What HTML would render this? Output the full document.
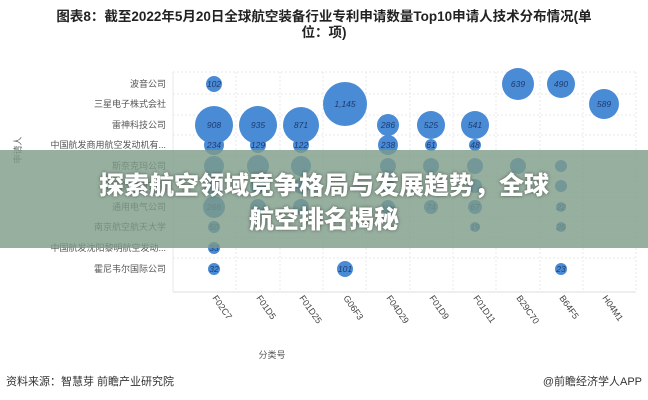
<!DOCTYPE html>
<html><head><meta charset="utf-8"><style>
body{margin:0;width:648px;height:400px;background:#fff;overflow:hidden;font-family:"Liberation Sans","Noto Sans CJK SC",sans-serif;position:relative}
.t{position:absolute;left:0;width:648px;text-align:center;font-size:13.5px;font-weight:bold;color:#222;line-height:16px;top:9px}
.band{position:absolute;left:0;top:150px;width:648px;height:98px;background:rgba(125,155,135,0.8)}
.bt{position:absolute;left:0;width:648px;text-align:center;color:#fff;font-weight:900;font-size:25px;line-height:34px;top:167px;text-shadow:0 0 3px rgba(0,0,0,.5);font-family:"Noto Sans CJK SC",sans-serif}
.f{position:absolute;top:373px;font-size:11px;color:#333}
</style></head><body>
<div class="t">图表8：截至2022年5月20日全球航空装备行业专利申请数量Top10申请人技术分布情况(单<br>位：项)</div>
<svg width="648" height="400" style="position:absolute;left:0;top:0" font-family="Liberation Sans,Noto Sans CJK SC,sans-serif">
<g stroke="#e8e8e8" stroke-dasharray="2,2">
<line x1="173" y1="72" x2="636" y2="72"/>
<line x1="173" y1="94" x2="636" y2="94"/><line x1="173" y1="115" x2="636" y2="115"/><line x1="173" y1="135" x2="636" y2="135"/><line x1="173" y1="156" x2="636" y2="156"/><line x1="173" y1="176" x2="636" y2="176"/><line x1="173" y1="197" x2="636" y2="197"/><line x1="173" y1="217" x2="636" y2="217"/><line x1="173" y1="238" x2="636" y2="238"/><line x1="173" y1="258" x2="636" y2="258"/>
<line x1="236" y1="72" x2="236" y2="292"/><line x1="280" y1="72" x2="280" y2="292"/><line x1="323" y1="72" x2="323" y2="292"/><line x1="366" y1="72" x2="366" y2="292"/><line x1="410" y1="72" x2="410" y2="292"/><line x1="453" y1="72" x2="453" y2="292"/><line x1="496" y1="72" x2="496" y2="292"/><line x1="540" y1="72" x2="540" y2="292"/><line x1="583" y1="72" x2="583" y2="292"/><line x1="636" y1="72" x2="636" y2="292"/>
</g>
<line x1="173" y1="72" x2="173" y2="292" stroke="#e8e8e8"/>
<line x1="173" y1="292" x2="636" y2="292" stroke="#ddd"/>
<g font-size="9" fill="#555" text-anchor="end">
<text x="166" y="87">波音公司</text><text x="166" y="107">三星电子株式会社</text><text x="166" y="128">雷神科技公司</text><text x="166" y="148">中国航发商用航空发动机有...</text><text x="166" y="169">斯奈克玛公司</text><text x="166" y="189">中国航发研究院</text><text x="166" y="210">通用电气公司</text><text x="166" y="230">南京航空航天大学</text><text x="166" y="251">中国航发沈阳黎明航空发动...</text><text x="166" y="272">霍尼韦尔国际公司</text>
</g>
<text x="21" y="150" font-size="9" fill="#666" transform="rotate(-90 21 150)" text-anchor="middle">申请人</text>
<text x="272" y="358" font-size="9" fill="#555" text-anchor="middle">分类号</text>
<g font-size="9" fill="#444">
<text transform="translate(212,298) rotate(55)">F02C7</text><text transform="translate(256,298) rotate(55)">F01D5</text><text transform="translate(299,298) rotate(55)">F01D25</text><text transform="translate(343,298) rotate(55)">G06F3</text><text transform="translate(386,298) rotate(55)">F04D29</text><text transform="translate(429,298) rotate(55)">F01D9</text><text transform="translate(473,298) rotate(55)">F01D11</text><text transform="translate(516,298) rotate(55)">B29C70</text><text transform="translate(559,298) rotate(55)">B64F5</text><text transform="translate(602,298) rotate(55)">H04M1</text>
</g>
<g fill="#4a8bd6">
<circle cx="214" cy="84" r="8"/><circle cx="518" cy="84" r="16"/><circle cx="561" cy="84" r="14"/>
<circle cx="345" cy="104" r="22"/><circle cx="604" cy="104" r="15"/>
<circle cx="214" cy="125" r="19"/><circle cx="258" cy="125" r="19"/><circle cx="301" cy="125" r="18"/><circle cx="388" cy="125" r="11"/><circle cx="431" cy="125" r="14"/><circle cx="475" cy="125" r="14"/>
<circle cx="214" cy="145" r="10"/><circle cx="258" cy="145" r="8"/><circle cx="301" cy="145" r="8"/><circle cx="388" cy="145" r="10"/><circle cx="431" cy="145" r="6"/><circle cx="475" cy="145" r="6"/>
<circle cx="214" cy="166" r="10"/><circle cx="258" cy="166" r="11"/><circle cx="301" cy="166" r="10"/><circle cx="388" cy="166" r="8"/><circle cx="431" cy="166" r="8"/><circle cx="475" cy="166" r="8"/><circle cx="518" cy="166" r="8"/><circle cx="561" cy="166" r="6"/>
<circle cx="214" cy="186" r="9"/><circle cx="258" cy="186" r="8"/><circle cx="301" cy="186" r="8"/><circle cx="388" cy="186" r="7"/><circle cx="475" cy="186" r="7"/><circle cx="561" cy="186" r="6"/>
<circle cx="214" cy="207" r="11"/><circle cx="258" cy="207" r="8"/><circle cx="301" cy="207" r="8"/><circle cx="388" cy="207" r="7"/><circle cx="431" cy="207" r="7"/><circle cx="475" cy="207" r="7"/><circle cx="561" cy="207" r="5"/>
<circle cx="214" cy="227" r="6"/><circle cx="475" cy="227" r="5"/><circle cx="561" cy="227" r="5"/>
<circle cx="214" cy="248" r="6"/>
<circle cx="214" cy="269" r="6"/><circle cx="345" cy="269" r="8"/><circle cx="561" cy="269" r="6"/>
</g>
<g font-size="8.5" font-style="italic" fill="#1d3a6e" text-anchor="middle">
<text x="214" y="87">102</text><text x="518" y="87">639</text><text x="561" y="87">490</text>
<text x="345" y="107">1,145</text><text x="604" y="107">589</text>
<text x="214" y="128">908</text><text x="258" y="128">935</text><text x="301" y="128">871</text><text x="388" y="128">286</text><text x="431" y="128">525</text><text x="475" y="128">541</text>
<text x="214" y="148">234</text><text x="258" y="148">129</text><text x="301" y="148">122</text><text x="388" y="148">238</text><text x="431" y="148">61</text><text x="475" y="148">48</text>
<text x="214" y="210">266</text><text x="431" y="210">74</text><text x="475" y="210">67</text><text x="561" y="210">22</text>
<text x="214" y="230">50</text><text x="475" y="230">19</text><text x="561" y="230">26</text>
<text x="214" y="251">33</text>
<text x="214" y="272">32</text><text x="345" y="272">101</text><text x="561" y="272">23</text>
</g>
</svg>
<div class="band"></div>
<div class="bt">探索航空领域竞争格局与发展趋势，全球<br>航空排名揭秘</div>
<div class="f" style="left:6px">资料来源：智慧芽 前瞻产业研究院</div>
<div class="f" style="right:6px">@前瞻经济学人APP</div>
</body></html>
